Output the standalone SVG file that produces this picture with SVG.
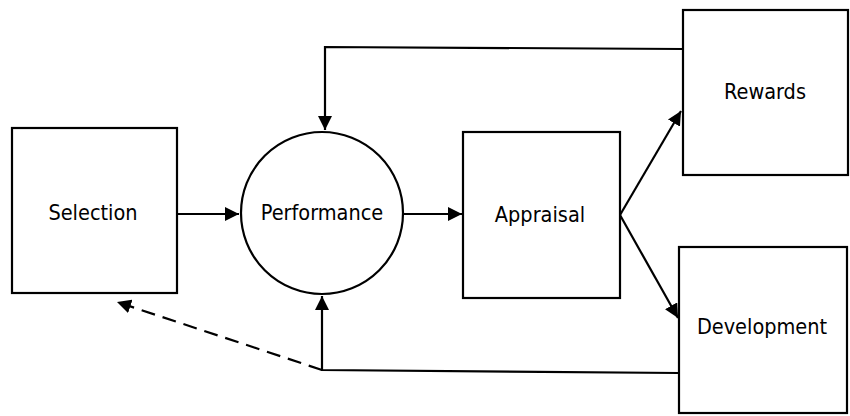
<svg xmlns="http://www.w3.org/2000/svg" width="850" height="416" viewBox="0 0 850 416">
<style>
.box{fill:#fff;stroke:#000;stroke-width:2.2}
.lbl{font-family:"DejaVu Sans","Liberation Sans",sans-serif;font-stretch:condensed;font-size:21.5px;fill:#000;text-anchor:middle}
.ln{fill:none;stroke:#000;stroke-width:2.2}
</style>
<defs>
<marker id="ahb" viewBox="0 0 10 10" refX="10" refY="5" markerWidth="14" markerHeight="14" markerUnits="userSpaceOnUse" orient="auto"><path d="M0,0L10,5L0,10z" fill="#000"/></marker>
</defs>
<rect width="850" height="416" fill="#fff"/>
<g id="connectors">
<line class="ln" x1="178" y1="214" x2="239" y2="214" stroke-width="3.2" marker-end="url(#ahb)"/>
<line class="ln" x1="403" y1="214" x2="462" y2="214" marker-end="url(#ahb)"/>
<line class="ln" x1="620" y1="215" x2="681" y2="111" marker-end="url(#ahb)"/>
<line class="ln" x1="620" y1="215" x2="678" y2="318" marker-end="url(#ahb)"/>
<polyline class="ln" points="683,49 325,47 325,130" marker-end="url(#ahb)"/>
<polyline class="ln" points="679,373 322,370 322,296" marker-end="url(#ahb)"/>
<line class="ln" x1="322" y1="370" x2="117" y2="302" stroke-dasharray="14,8" marker-end="url(#ahb)"/>
</g>
<g id="selection"><rect class="box" x="12" y="128" width="165" height="165"/><text class="lbl" x="93" y="220">Selection</text></g>
<g id="performance"><circle class="box" cx="322" cy="213" r="81"/><text class="lbl" x="322" y="220">Performance</text></g>
<g id="appraisal"><rect class="box" x="463" y="132" width="157" height="166"/><text class="lbl" x="540" y="222">Appraisal</text></g>
<g id="rewards"><rect class="box" x="683" y="10" width="165" height="165"/><text class="lbl" x="765" y="99">Rewards</text></g>
<g id="development"><rect class="box" x="679" y="247" width="168" height="166"/><text class="lbl" x="762" y="334">Development</text></g>
</svg>
